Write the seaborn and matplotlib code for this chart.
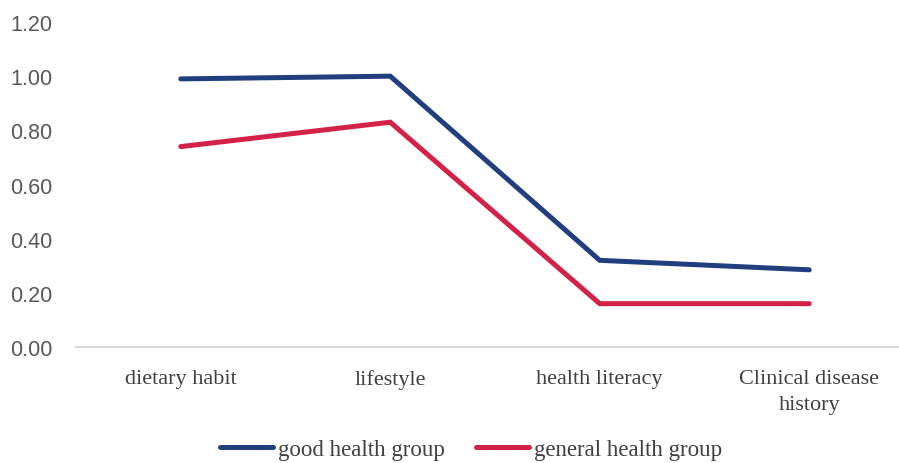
import pandas as pd
import seaborn as sns
import matplotlib.pyplot as plt

# data
categories = ['dietary habit', 'lifestyle', 'health literacy', 'Clinical disease\nhistory']
good_health = [0.99, 1.00, 0.32, 0.285]
general_health = [0.74, 0.83, 0.16, 0.16]
series_names = ['good health group', 'general health group']
colors = ['#213F7E', '#D42147']

df = pd.DataFrame({
    'category': categories * 2,
    'x': list(range(len(categories))) * 2,
    'value': good_health + general_health,
    'group': [series_names[0]] * len(categories) + [series_names[1]] * len(categories),
})

sns.set_style('white')
plt.rcParams['font.family'] = ['Liberation Serif', 'DejaVu Serif']

fig = plt.figure(figsize=(8.99, 4.64), dpi=100)
# axes runs past the right edge like the cropped original
ax = fig.add_axes([76 / 899, 0.25, 838 / 899, 0.7004])

sns.lineplot(data=df, x='x', y='value', hue='group', palette=colors,
             linewidth=3.6, ax=ax, legend=False, sort=False)
for line in ax.lines:
    line.set_solid_capstyle('round')
    line.set_solid_joinstyle('miter')

ax.set_xlim(-0.5, 3.5)
ax.set_ylim(0, 1.2)
ax.set_yticks([0, 0.2, 0.4, 0.6, 0.8, 1.0, 1.2])
ax.set_yticklabels([f'{v:.2f}' for v in [0, 0.2, 0.4, 0.6, 0.8, 1.0, 1.2]],
                   fontfamily='Liberation Sans', fontsize=15.5, color='#595959')
ax.set_xticks(range(len(categories)))
ax.set_xticklabels(categories, fontsize=16, color='#404040', linespacing=1.45)
ax.tick_params(axis='both', length=0)
ax.tick_params(axis='x', pad=16)
ax.tick_params(axis='y', pad=17)
ax.set_xlabel('')
ax.set_ylabel('')

for side in ['top', 'right', 'left']:
    ax.spines[side].set_visible(False)
ax.spines['bottom'].set_color('#D9D9D9')
ax.spines['bottom'].set_linewidth(1.5)

handles = [plt.Line2D([], [], color=c, linewidth=3.6, solid_capstyle='round') for c in colors]
fig.legend(handles, series_names, loc='center', bbox_to_anchor=(0.524, 0.030),
           ncol=2, frameon=False, fontsize=16.5, handlelength=2.3,
           handletextpad=0.2, columnspacing=1.4, labelcolor='#404040')

fig.savefig('out.png', dpi=100)
